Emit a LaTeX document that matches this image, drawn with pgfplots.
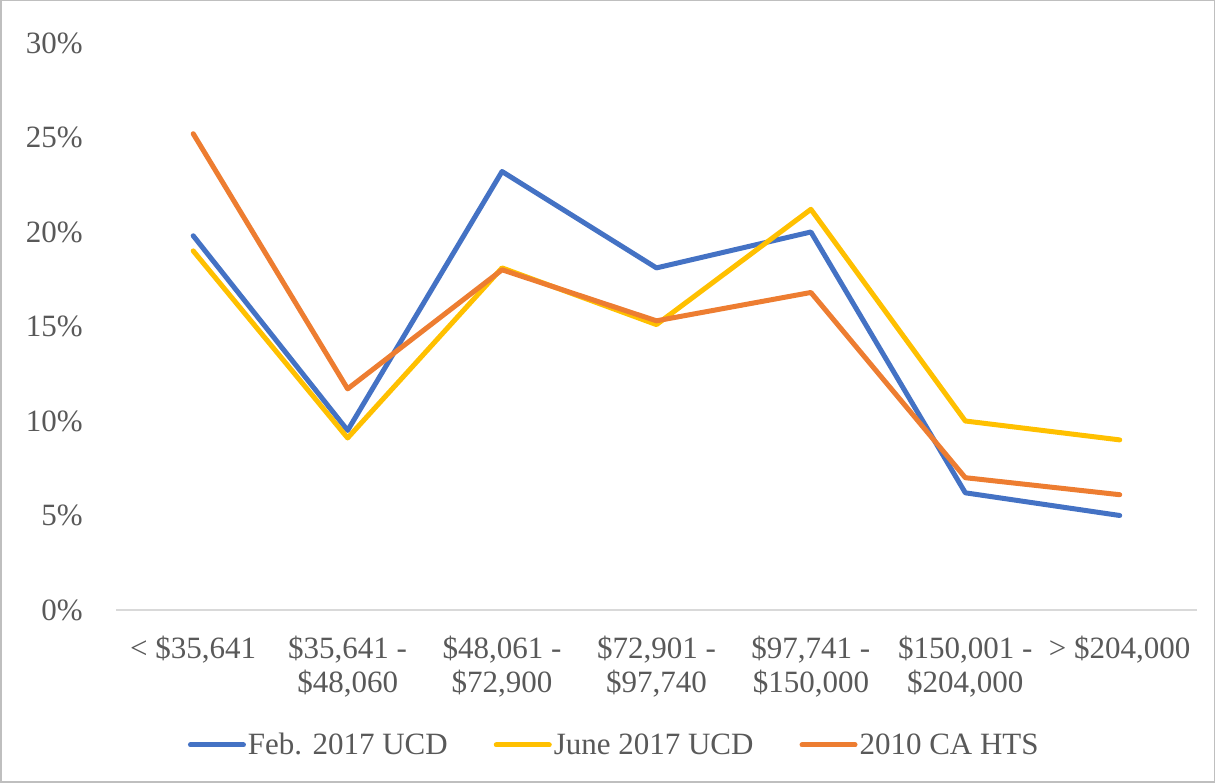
\documentclass[border=0pt]{standalone}
\usepackage{fontspec}
\setmainfont{Liberation Serif}
\usepackage{pgfplots}
\pgfplotsset{compat=1.18}
\definecolor{cblue}{HTML}{4472C4}
\definecolor{corange}{HTML}{ED7D31}
\definecolor{cyellow}{HTML}{FFC000}
\definecolor{ctext}{HTML}{595959}
\definecolor{caxis}{HTML}{D9D9D9}
\definecolor{cborder}{HTML}{BFBFBF}
\begin{document}
\begin{tikzpicture}[x=1pt,y=1pt]
\draw[use as bounding box, draw=cborder, line width=1.5pt] (0.75,0.75) rectangle (1214.25,782.25);
\begin{axis}[
  at={(116pt,173pt)}, anchor=south west,
  scale only axis, width=1081pt, height=567pt,
  xmin=-0.5, xmax=6.5, ymin=0, ymax=30,
  axis x line*=bottom, axis y line*=left,
  x axis line style={draw=caxis, line width=2pt},
  y axis line style={draw=none},
  major tick length=0pt,
  xtick={0,1,2,3,4,5,6},
  xticklabels={{< \$35,641},{\$35,641 -\\\$48,060},{\$48,061 -\\\$72,900},{\$72,901 -\\\$97,740},{\$97,741 -\\\$150,000},{\$150,001 -\\\$204,000},{> \$204,000}},
  ytick={0,5,10,15,20,25,30},
  yticklabels={0\%,5\%,10\%,15\%,20\%,25\%,30\%},
  tick label style={font=\fontsize{31}{34}\selectfont, text=ctext},
  yticklabel style={anchor=east, inner sep=0pt, xshift=-33pt},
  xticklabel style={align=center, anchor=north, inner sep=0pt, yshift=-26pt},
  legend columns=3,
  legend style={at={(0.461,-0.238)}, anchor=center, draw=none, fill=none,
    font=\fontsize{31}{34}\selectfont, text=ctext,
    /tikz/every even column/.append style={column sep=44pt},
    nodes={inner sep=2pt}},
  legend image code/.code={\draw[#1, line width=5pt, line cap=round] (0pt,0pt) -- (53pt,0pt);},
  every axis plot/.append style={line width=5pt, line join=round, line cap=round, mark=none},
]
\addplot[cblue] coordinates {(0,19.8) (1,9.5) (2,23.2) (3,18.1) (4,20.0) (5,6.2) (6,5.0)};
\addlegendentry{Feb. 2017 UCD}
\addplot[cyellow] coordinates {(0,19.0) (1,9.1) (2,18.1) (3,15.1) (4,21.2) (5,10.0) (6,9.0)};
\addlegendentry{June 2017 UCD}
\addplot[corange] coordinates {(0,25.2) (1,11.7) (2,18.0) (3,15.3) (4,16.8) (5,7.0) (6,6.1)};
\addlegendentry{2010 CA HTS}
\end{axis}
\end{tikzpicture}
\end{document}
